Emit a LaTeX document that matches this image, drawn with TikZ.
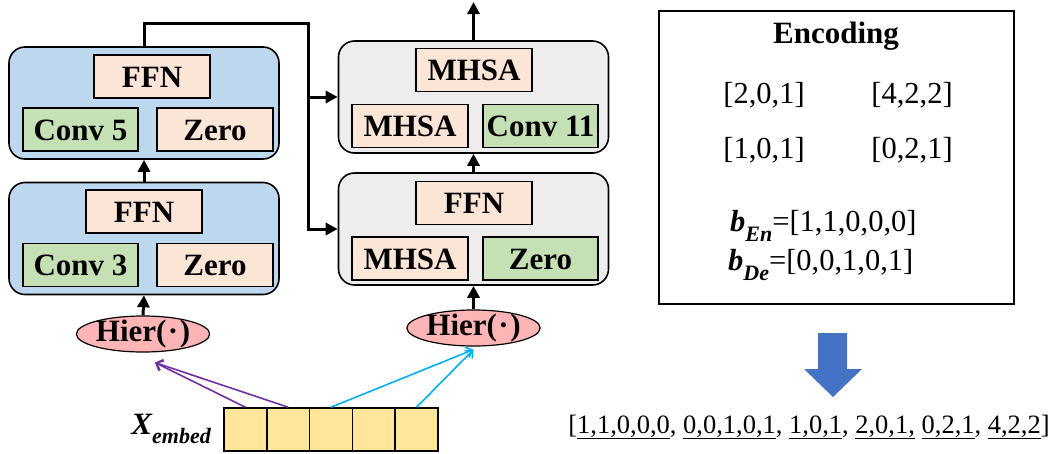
\documentclass[tikz,border=0pt]{standalone}
\usepackage{fontspec}
\setmainfont{Liberation Serif}
\usepackage{xcolor}
\usetikzlibrary{arrows.meta,calc,shapes.geometric}

\definecolor{blockblue}{HTML}{BDD7EE}
\definecolor{blockgray}{HTML}{EDEDED}
\definecolor{opbeige}{HTML}{FBE5D6}
\definecolor{opgreen}{HTML}{C5E0B4}
\definecolor{hierpink}{HTML}{FFB5B5}
\definecolor{cellyellow}{HTML}{FFE699}
\definecolor{linkpurple}{HTML}{7030A0}
\definecolor{linkcyan}{HTML}{00B0F0}
\definecolor{arrowblue}{HTML}{4472C4}

\newcommand{\lowsub}[1]{\raisebox{-0.32em}{\fontsize{22}{22}\selectfont\bfseries\itshape #1}}

\tikzset{
  block/.style={draw, rounded corners=16pt, line width=1.6pt, minimum width=270pt, minimum height=112pt},
  op/.style={draw, line width=1.6pt, minimum width=116pt, minimum height=43pt, inner sep=0pt,
    text height=21pt, text depth=0pt, font=\fontsize{31}{31}\selectfont\bfseries},
  hier/.style={ellipse, draw, fill=hierpink, line width=1.2pt, minimum width=131pt, minimum height=36pt,
    inner sep=0pt, text height=20pt, text depth=5pt, font=\fontsize{31}{31}\selectfont\bfseries},
  cell/.style={draw, fill=cellyellow, line width=1.6pt, minimum width=42.8pt, minimum height=43pt, inner sep=0pt},
  flow/.style={line width=3pt, ->},
  link/.style={line width=1.6pt, -{Straight Barb[length=6pt,width=11pt]}},
  plain/.style={font=\fontsize{30.5}{30.5}\selectfont}
}

\begin{document}
\begin{tikzpicture}[x=1pt, y=-1pt, >={Triangle[length=12pt,width=12pt]}]
  \useasboundingbox (0,0) rectangle (1057,453);

  \node[block, fill=blockblue] (encU) at (144,103) {};
  \node[block, fill=blockblue] (encL) at (144,238.5) {};
  \node[block, fill=blockgray] (decU) at (473.5,97) {};
  \node[block, fill=blockgray] (decL) at (473.5,229) {};

  \node[op, fill=opbeige] (ffnU) at (152,76.5) {FFN};
  \node[op, fill=opgreen, minimum width=115pt] (conv5) at (80.5,129.5) {Conv 5};
  \node[op, fill=opbeige] (zeroU) at (215,129.5) {Zero};

  \node[op, fill=opbeige] (ffnL) at (144,211.5) {FFN};
  \node[op, fill=opgreen, minimum width=115pt] (conv3) at (80.5,265) {Conv 3};
  \node[op, fill=opbeige] (zeroL) at (215,265) {Zero};

  \node[op, fill=opbeige] (mhsaT) at (474,70) {MHSA};
  \node[op, fill=opbeige] (mhsaU) at (410,126) {MHSA};
  \node[op, fill=opgreen, minimum width=115pt] (conv11) at (540.5,126) {Conv 11};

  \node[op, fill=opbeige] (ffnD) at (474,203) {FFN};
  \node[op, fill=opbeige] (mhsaL) at (410,258.5) {MHSA};
  \node[op, fill=opgreen, minimum width=115pt] (zeroD) at (540.5,258.5) {Zero};

  \node[hier] (hierL) at (143,334) {Hier(\kern1.5pt·\kern1.5pt)};
  \node[hier] (hierR) at (473.5,328) {Hier(\kern1.5pt·\kern1.5pt)};

  \foreach \i in {1,...,5}
    \node[cell] (e\i) at ({224+42.8*(\i-0.5)},429.5) {};
  \node[anchor=east, inner sep=0pt, font=\fontsize{31}{31}\selectfont\bfseries\itshape] (xemb) at (211,429) {X\lowsub{embed}};

  \draw[flow] (encL.north) -- (encU.south);
  \draw[flow] (hierL.north) -- (encL.south);
  \draw[flow] (hierR.north) -- (decL.south);
  \draw[flow] (decL.north) -- (decU.south);
  \coordinate (out) at (473.5,2);
  \draw[flow] (decU.north) -- (out);

  \coordinate (bend) at (308,23);
  \draw[flow] (encU.north) |- (bend) |- (decL.west);
  \draw[flow] (bend |- decU.west) -- (decU.west);

  \draw[link, linkpurple] (e1.north) -- ([xshift=12pt,yshift=-10pt]hierL.south);
  \draw[link, linkpurple] (e2.north) -- ([xshift=12pt,yshift=-10pt]hierL.south);
  \draw[link, linkcyan] (e3.north) -- ([yshift=-3pt]hierR.south);
  \draw[link, linkcyan] (e5.north) -- ([yshift=-3pt]hierR.south);

  \node[draw, line width=1.6pt, minimum width=355pt, minimum height=293pt] (encbox) at (836.5,157.5) {};
  \node[font=\fontsize{31}{31}\selectfont\bfseries] (enctitle) at (836,36) {Encoding};
  \node[plain] (c1) at (764,95) {[2,0,1]};
  \node[plain] (c2) at (912,95) {[4,2,2]};
  \node[plain] (c3) at (764,150) {[1,0,1]};
  \node[plain] (c4) at (912,150) {[0,2,1]};
  \node[plain, anchor=west, inner sep=0pt] (ben) at (730,226) {\textbf{\textit{b}}\lowsub{En}=[1,1,0,0,0]};
  \node[plain, anchor=west, inner sep=0pt] (bde) at (728,265) {\textbf{\textit{b}}\lowsub{De}=[0,0,1,0,1]};

  \fill[arrowblue] (818,333) -- (847,333) -- (847,369) -- (862,369) -- (833,397) -- (804,369) -- (818,369) -- cycle;

  \node[font=\fontsize{26.5}{26.5}\selectfont] (seq) at (809,427)
    {[\underline{1,1,0,0,0}, \underline{0,0,1,0,1}, \underline{1,0,1}, \underline{2,0,1,} \underline{0,2,1}, \underline{4,2,2}]};
\end{tikzpicture}
\end{document}
